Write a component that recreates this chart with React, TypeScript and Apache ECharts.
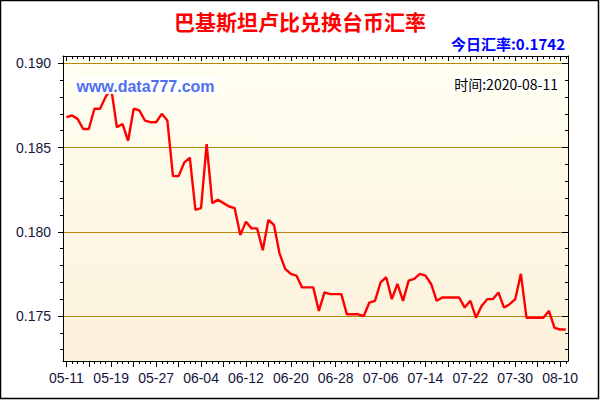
import React, { useEffect, useRef } from "react";
import * as echarts from "echarts";

const TITLE = "巴基斯坦卢比兑换台币汇率";
const TODAY_TEXT = "今日汇率:0.1742";
const TIME_TEXT = "时间:2020-08-11";
const WATERMARK = "www.data777.com";

const dates = [
  "05-11","05-12","05-13","05-14","05-15","05-16","05-17","05-18","05-19","05-20",
  "05-21","05-22","05-23","05-24","05-25","05-26","05-27","05-28","05-29","05-30",
  "05-31","06-01","06-02","06-03","06-04","06-05","06-06","06-07","06-08","06-09",
  "06-10","06-11","06-12","06-13","06-14","06-15","06-16","06-17","06-18","06-19",
  "06-20","06-21","06-22","06-23","06-24","06-25","06-26","06-27","06-28","06-29",
  "06-30","07-01","07-02","07-03","07-04","07-05","07-06","07-07","07-08","07-09",
  "07-10","07-11","07-12","07-13","07-14","07-15","07-16","07-17","07-18","07-19",
  "07-20","07-21","07-22","07-23","07-24","07-25","07-26","07-27","07-28","07-29",
  "07-30","07-31","08-01","08-03","08-04","08-05","08-06","08-07","08-10","08-11",
];

const rates = [
  0.1868, 0.1869, 0.1867, 0.1861, 0.1861, 0.1873, 0.1873, 0.1880, 0.1885, 0.1862,
  0.1864, 0.1854, 0.1873, 0.1872, 0.1866, 0.1865, 0.1865, 0.1870, 0.1866, 0.1833,
  0.1833, 0.1841, 0.1844, 0.1813, 0.1814, 0.1852, 0.1817, 0.1819, 0.1817, 0.1815,
  0.1814, 0.1798, 0.1806, 0.1802, 0.1802, 0.1789, 0.1807, 0.1804, 0.1787, 0.1778,
  0.1775, 0.1774, 0.1767, 0.1767, 0.1767, 0.1753, 0.1764, 0.1763, 0.1763, 0.1763,
  0.1751, 0.1751, 0.1751, 0.1750, 0.1758, 0.1759, 0.1770, 0.1773, 0.1760, 0.1769,
  0.1759, 0.1771, 0.1772, 0.1775, 0.1774, 0.1769, 0.1759, 0.1761, 0.1761, 0.1761,
  0.1761, 0.1755, 0.1759, 0.1749, 0.1756, 0.1760, 0.1760, 0.1764, 0.1755, 0.1757,
  0.1760, 0.1775, 0.1749, 0.1749, 0.1749, 0.1749, 0.1753, 0.1743, 0.1742, 0.1742,
];

const yMajorTicks = [0.175, 0.18, 0.185, 0.19];
const yMinorTicks = [
  0.173, 0.174, 0.176, 0.177, 0.178, 0.179, 0.181, 0.182, 0.183, 0.184,
  0.186, 0.187, 0.188, 0.189,
];
const Y_STEP = 0.005;

const Y_MIN = 0.17233;
const Y_MAX = 0.19043;
const X_MIN = -0.6;
const X_MAX = 89.4;

export default function App() {
  const ref = useRef<HTMLDivElement>(null);

  useEffect(() => {
    if (!ref.current) return;
    const chart = echarts.init(ref.current, undefined, { renderer: "svg" });

    const allIdx = dates.map((_, i) => i);
    const majorIdx = allIdx.filter((i) => i % 4 === 0);
    const labelIdx = allIdx.filter((i) => i % 8 === 0);

    const labelFont = {
      fontFamily: "'Liberation Sans', Arial, sans-serif",
      fontSize: 14,
      color: "#14143c",
    };

    const xBase = (position: string) => ({
      type: "value",
      position,
      z: 3,
      min: X_MIN,
      max: X_MAX,
      splitLine: { show: false },
    });
    const yBase = (position: string) => ({
      type: "value",
      position,
      z: 3,
      min: Y_MIN,
      max: Y_MAX,
      splitLine: { show: false },
    });

    const option: any = {
      animation: false,
      backgroundColor: "#ffffff",
      grid: {
        left: 63,
        top: 56,
        width: 505,
        height: 305,
        show: true,
        borderWidth: 0,
        backgroundColor: new echarts.graphic.LinearGradient(0, 0, 0, 1, [
          { offset: 0, color: "#fffff2" },
          { offset: 1, color: "#fcf1da" },
        ]),
      },
      xAxis: [
        {
          ...xBase("bottom"),
          axisLine: { show: true, onZero: false, lineStyle: { color: "#000", width: 1 } },
          axisTick: { show: true, length: 3, customValues: allIdx, lineStyle: { color: "#000" } },
          axisLabel: {
            show: true,
            margin: 10,
            customValues: labelIdx,
            formatter: (v: number) => dates[Math.round(v)] ?? "",
            ...labelFont,
          },
        },
        {
          ...xBase("bottom"),
          axisLine: { show: false, onZero: false },
          axisTick: { show: true, length: 6, customValues: majorIdx, lineStyle: { color: "#000" } },
          axisLabel: { show: false },
        },
        {
          ...xBase("top"),
          axisLine: { show: true, onZero: false, lineStyle: { color: "#000", width: 1 } },
          axisTick: { show: true, inside: true, length: 3, customValues: allIdx, lineStyle: { color: "#000" } },
          axisLabel: { show: false },
        },
        {
          ...xBase("top"),
          axisLine: { show: false, onZero: false },
          axisTick: { show: true, inside: true, length: 5, customValues: majorIdx, lineStyle: { color: "#000" } },
          axisLabel: { show: false },
        },
      ],
      yAxis: [
        {
          ...yBase("left"),
          axisLine: { show: true, onZero: false, lineStyle: { color: "#000", width: 1 } },
          axisTick: { show: true, length: 5, customValues: yMajorTicks, lineStyle: { color: "#000" } },
          axisLabel: {
            show: true,
            margin: 12,
            customValues: yMajorTicks,
            formatter: (v: number) => v.toFixed(3),
            ...labelFont,
          },
        },
        {
          ...yBase("left"),
          axisLine: { show: false, onZero: false },
          axisTick: { show: true, length: 3, customValues: yMinorTicks, lineStyle: { color: "#000" } },
          axisLabel: { show: false },
        },
        {
          ...yBase("right"),
          axisLine: { show: true, onZero: false, lineStyle: { color: "#000", width: 1 } },
          axisTick: { show: true, inside: true, length: 6, customValues: yMajorTicks, lineStyle: { color: "#000" } },
          axisLabel: { show: false },
        },
        {
          ...yBase("right"),
          axisLine: { show: false, onZero: false },
          axisTick: { show: true, inside: true, length: 3, customValues: yMinorTicks, lineStyle: { color: "#000" } },
          axisLabel: { show: false },
        },
        {
          type: "value",
          position: "left",
          z: 1,
          min: Y_MIN,
          max: Y_MAX,
          minInterval: Y_STEP,
          maxInterval: Y_STEP,
          axisLine: { show: false, onZero: false },
          axisTick: { show: false },
          axisLabel: { show: false },
          splitLine: {
            show: true,
            showMinLine: false,
            showMaxLine: false,
            lineStyle: { color: "#b8860b", width: 1, type: "solid" },
          },
        },
      ],
      series: [
        {
          type: "line",
          xAxisIndex: 0,
          yAxisIndex: 0,
          z: 10,
          data: rates.map((v, i) => [i, v]),
          symbol: "none",
          lineStyle: { color: "#ff0000", width: 2.4 },
        },
      ],
      graphic: [
        {
          type: "text",
          z: 100,
          x: 300,
          y: 21,
          style: {
            text: TITLE,
            fill: "#ff0000",
            font: "bold 21px 'Noto Sans CJK SC', sans-serif",
            textAlign: "center",
            textVerticalAlign: "middle",
          },
        },
        {
          type: "text",
          z: 100,
          x: 565,
          y: 43,
          style: {
            text: TODAY_TEXT,
            fill: "#0000ff",
            font: "bold 15px 'Noto Sans CJK SC', sans-serif",
            textAlign: "right",
            textVerticalAlign: "middle",
          },
        },
        {
          type: "rect",
          z: 100,
          shape: { x: 74, y: 77, width: 143, height: 17 },
          style: { fill: "#ffffff", opacity: 0.92 },
        },
        {
          type: "text",
          z: 101,
          x: 145.5,
          y: 86,
          style: {
            text: WATERMARK,
            fill: "#4f6ff0",
            font: "bold 16px 'Liberation Sans', Arial, sans-serif",
            textAlign: "center",
            textVerticalAlign: "middle",
          },
        },
        {
          type: "rect",
          z: 100,
          shape: { x: 452, y: 76, width: 108, height: 15 },
          style: { fill: "#ffffff", opacity: 0.9 },
        },
        {
          type: "text",
          z: 101,
          x: 558,
          y: 83.5,
          style: {
            text: TIME_TEXT,
            fill: "#000000",
            font: "14px 'Noto Sans CJK SC', sans-serif",
            textAlign: "right",
            textVerticalAlign: "middle",
          },
        },
        {
          type: "rect",
          z: 100,
          shape: { x: 0.5, y: 0.5, width: 598, height: 398 },
          style: { fill: "none", stroke: "#000000", lineWidth: 1.5 },
        },
      ],
    };

    chart.setOption(option);
    return () => chart.dispose();
  }, []);

  return (
    <div
      ref={ref}
      style={{ position: "fixed", left: 0, top: 0, width: 600, height: 400 }}
    />
  );
}
